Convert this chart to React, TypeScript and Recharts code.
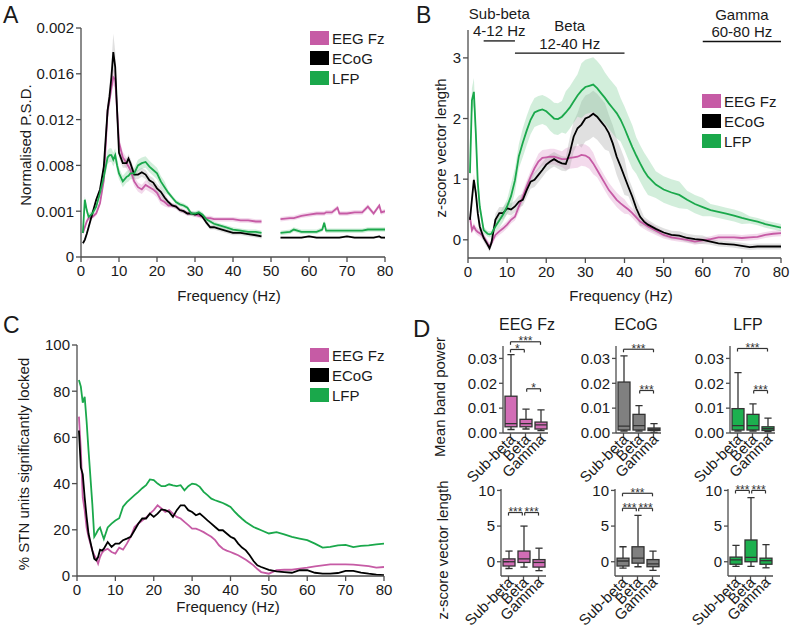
import React from 'react';
import { ComposedChart, Line, Area, Bar, XAxis, YAxis, ReferenceLine } from 'recharts';

const FONT = '"Liberation Sans", Arial, Helvetica, sans-serif';
const TEXT = '#1a1a1a';
const AXIS = '#4d4d4d';

const seriesNames = ['EEG Fz', 'ECoG', 'LFP'];
const seriesKeys = ['eeg', 'ecog', 'lfp'];
const lineColors = ['#C65BA5', '#000000', '#1AA84B'];
const bandColors = ['#D98CC3', '#9E9E9E', '#72C98F'];
const boxColors = ['#D26DB6', '#808080', '#1DB04F'];

const freqTicks = [0, 10, 20, 30, 40, 50, 60, 70, 80];

// ---------- Panel A : normalised PSD ----------
const freqA = [0.5, 1, 1.5, 2, 3, 4, 5, 6, 7, 7.5, 8, 8.5, 9, 9.5, 10, 11, 12, 12.5, 13, 14, 15, 16, 17, 18, 19, 20, 21, 22, 23, 24, 25, 26, 27, 28, 29, 30, 31, 32, 33, 34, 35, 36, 38, 40, 42, 44, 46, 47.5, 50, 52.5, 55, 56, 58, 60, 62, 63.5, 64, 64.5, 66, 67.5, 68, 70, 72, 74, 75.5, 77, 78.5, 79, 80];
const eegA = [0.0021, 0.0026, 0.0031, 0.0034, 0.0035, 0.0038, 0.0047, 0.0067, 0.0128, 0.0137, 0.0148, 0.0157, 0.0155, 0.0128, 0.0100, 0.0087, 0.0082, 0.0079, 0.0076, 0.0066, 0.0061, 0.0059, 0.0063, 0.0061, 0.0059, 0.0056, 0.0050, 0.0048, 0.0045, 0.0045, 0.0044, 0.0041, 0.0040, 0.0038, 0.0038, 0.0037, 0.0036, 0.0035, 0.0034, 0.0034, 0.0033, 0.0033, 0.0033, 0.0033, 0.0032, 0.0032, 0.0031, 0.0031, null, 0.0033, 0.0034, 0.0034, 0.0036, 0.0037, 0.0038, 0.0038, 0.0038, 0.0039, 0.0039, 0.0043, 0.0038, 0.0038, 0.0039, 0.0039, 0.0044, 0.0038, 0.0045, 0.0039, 0.0040];
const ecogA = [0.0012, 0.0015, 0.0020, 0.0026, 0.0038, 0.0050, 0.0059, 0.0079, 0.0128, 0.0140, 0.0157, 0.0179, 0.0166, 0.0128, 0.0091, 0.0082, 0.0082, 0.0086, 0.0082, 0.0072, 0.0072, 0.0074, 0.0072, 0.0067, 0.0065, 0.0060, 0.0057, 0.0052, 0.0048, 0.0045, 0.0044, 0.0041, 0.0040, 0.0038, 0.0038, 0.0037, 0.0038, 0.0035, 0.0030, 0.0026, 0.0026, 0.0025, 0.0023, 0.0021, 0.0021, 0.0020, 0.0019, 0.0018, null, 0.0017, 0.0017, 0.0017, 0.0017, 0.0018, 0.0017, 0.0017, 0.0017, 0.0017, 0.0017, 0.0017, 0.0017, 0.0018, 0.0017, 0.0017, 0.0017, 0.0017, 0.0018, 0.0017, 0.0017];
const lfpA = [0.0021, 0.0050, 0.0041, 0.0035, 0.0038, 0.0044, 0.0056, 0.0070, 0.0087, 0.0089, 0.0089, 0.0085, 0.0089, 0.0080, 0.0073, 0.0066, 0.0070, 0.0071, 0.0073, 0.0073, 0.0080, 0.0082, 0.0083, 0.0079, 0.0076, 0.0073, 0.0066, 0.0061, 0.0056, 0.0052, 0.0048, 0.0046, 0.0045, 0.0043, 0.0038, 0.0038, 0.0039, 0.0037, 0.0033, 0.0031, 0.0029, 0.0028, 0.0026, 0.0024, 0.0023, 0.0022, 0.0022, 0.0021, null, 0.0021, 0.0022, 0.0024, 0.0022, 0.0022, 0.0022, 0.0024, 0.0030, 0.0023, 0.0023, 0.0023, 0.0023, 0.0023, 0.0023, 0.0023, 0.0024, 0.0024, 0.0024, 0.0024, 0.0024];
const eegSemA = [0.0002, 0.0002, 0.0002, 0.0002, 0.0002, 0.0002, 0.0002, 0.0003, 0.0007, 0.0007, 0.0007, 0.0007, 0.0007, 0.0007, 0.0005, 0.0005, 0.0005, 0.0005, 0.0005, 0.0004, 0.0004, 0.0004, 0.0004, 0.0004, 0.0004, 0.0004, 0.0004, 0.0004, 0.0002, 0.0002, 0.0002, 0.0002, 0.0002, 0.0002, 0.0002, 0.0002, 0.0002, 0.0002, 0.0002, 0.0002, 0.0002, 0.0002, 0.0002, 0.0002, 0.0002, 0.0002, 0.0002, 0.0002, null, 0.0002, 0.0002, 0.0002, 0.0002, 0.0002, 0.0002, 0.0002, 0.0002, 0.0002, 0.0002, 0.0002, 0.0002, 0.0002, 0.0002, 0.0002, 0.0002, 0.0002, 0.0002, 0.0002, 0.0002];
const ecogSemA = [0.0002, 0.0002, 0.0002, 0.0002, 0.0002, 0.0002, 0.0002, 0.0004, 0.0008, 0.0010, 0.0012, 0.0016, 0.0014, 0.0010, 0.0004, 0.0004, 0.0004, 0.0004, 0.0004, 0.0004, 0.0004, 0.0004, 0.0004, 0.0004, 0.0004, 0.0004, 0.0004, 0.0004, 0.0002, 0.0002, 0.0002, 0.0002, 0.0002, 0.0002, 0.0002, 0.0002, 0.0002, 0.0002, 0.0002, 0.0002, 0.0002, 0.0002, 0.0002, 0.0002, 0.0002, 0.0002, 0.0002, 0.0002, null, 0.0001, 0.0001, 0.0001, 0.0001, 0.0001, 0.0001, 0.0001, 0.0001, 0.0001, 0.0001, 0.0001, 0.0001, 0.0001, 0.0001, 0.0001, 0.0001, 0.0001, 0.0001, 0.0001, 0.0001];
const lfpSemA = [0.0003, 0.0003, 0.0003, 0.0003, 0.0003, 0.0003, 0.0003, 0.0006, 0.0006, 0.0006, 0.0006, 0.0006, 0.0006, 0.0006, 0.0005, 0.0005, 0.0005, 0.0005, 0.0005, 0.0005, 0.0005, 0.0005, 0.0005, 0.0005, 0.0005, 0.0005, 0.0005, 0.0005, 0.0002, 0.0002, 0.0002, 0.0002, 0.0002, 0.0002, 0.0002, 0.0002, 0.0002, 0.0002, 0.0002, 0.0002, 0.0002, 0.0002, 0.0002, 0.0002, 0.0002, 0.0002, 0.0002, 0.0002, null, 0.0002, 0.0002, 0.0002, 0.0002, 0.0002, 0.0002, 0.0002, 0.0002, 0.0002, 0.0002, 0.0002, 0.0002, 0.0002, 0.0002, 0.0002, 0.0002, 0.0002, 0.0002, 0.0002, 0.0002];
const psdTicks = [0, 0.004, 0.008, 0.012, 0.016, 0.02];
const psdTickLabels = ['0', '0.001', '0.008', '0.012', '0.016', '0.002'];

// ---------- Panel B : z-score vector length ----------
const freqB = [0.5, 1, 1.5, 2, 2.5, 3, 4, 5, 5.5, 6, 7, 8, 9, 10, 11, 12, 13, 14, 15, 16, 17, 18, 19, 20, 21, 22, 23, 24, 25, 26, 27, 28, 29, 30, 31, 32, 33, 34, 35, 36, 37, 38, 39, 40, 41, 42, 43, 44, 45, 46, 48, 50, 52, 54, 56, 58, 60, 62, 64, 66, 68, 70, 72, 74, 76, 78, 80];
const eegB = [0.38, 0.16, 0.22, 0.16, 0.13, 0.11, 0.05, -0.06, -0.11, -0.05, 0.08, 0.14, 0.19, 0.25, 0.33, 0.38, 0.55, 0.71, 0.88, 1.04, 1.18, 1.29, 1.35, 1.36, 1.37, 1.37, 1.35, 1.33, 1.33, 1.35, 1.36, 1.37, 1.40, 1.39, 1.35, 1.26, 1.15, 1.04, 0.93, 0.82, 0.74, 0.66, 0.60, 0.55, 0.50, 0.44, 0.37, 0.30, 0.26, 0.22, 0.15, 0.08, 0.04, 0.02, 0.00, -0.03, -0.01, 0.01, 0.04, 0.04, 0.04, 0.03, 0.04, 0.05, 0.08, 0.10, 0.11];
const ecogB = [0.33, 0.66, 0.99, 0.77, 0.44, 0.22, 0.03, -0.08, -0.14, -0.05, 0.33, 0.44, 0.44, 0.52, 0.50, 0.55, 0.63, 0.66, 0.82, 0.96, 0.99, 1.07, 1.15, 1.24, 1.29, 1.33, 1.29, 1.26, 1.25, 1.43, 1.70, 1.84, 1.90, 2.00, 2.03, 2.08, 2.03, 1.95, 1.87, 1.76, 1.59, 1.37, 1.21, 1.04, 0.87, 0.71, 0.52, 0.38, 0.30, 0.25, 0.18, 0.12, 0.08, 0.07, 0.03, 0.01, 0.00, -0.03, -0.06, -0.07, -0.08, -0.10, -0.12, -0.11, -0.11, -0.11, -0.11];
const lfpB = [1.10, 2.30, 2.44, 1.76, 0.94, 0.55, 0.16, 0.10, 0.09, 0.10, 0.22, 0.32, 0.42, 0.55, 0.72, 0.98, 1.38, 1.60, 1.80, 1.98, 2.10, 2.13, 2.15, 2.12, 2.06, 2.00, 1.99, 2.03, 2.10, 2.18, 2.28, 2.38, 2.46, 2.52, 2.54, 2.56, 2.50, 2.42, 2.34, 2.25, 2.17, 2.09, 1.98, 1.84, 1.68, 1.53, 1.39, 1.26, 1.14, 1.04, 0.91, 0.83, 0.78, 0.74, 0.66, 0.59, 0.54, 0.49, 0.46, 0.43, 0.40, 0.36, 0.33, 0.30, 0.26, 0.23, 0.20];
const eegSemB = [0.06, 0.06, 0.06, 0.06, 0.06, 0.06, 0.06, 0.06, 0.06, 0.06, 0.06, 0.06, 0.06, 0.06, 0.06, 0.06, 0.10, 0.10, 0.10, 0.10, 0.10, 0.13, 0.13, 0.13, 0.13, 0.13, 0.13, 0.13, 0.18, 0.18, 0.18, 0.18, 0.18, 0.18, 0.18, 0.18, 0.12, 0.12, 0.12, 0.12, 0.12, 0.12, 0.12, 0.12, 0.08, 0.08, 0.08, 0.08, 0.08, 0.08, 0.07, 0.06, 0.05, 0.05, 0.05, 0.05, 0.05, 0.05, 0.05, 0.05, 0.05, 0.05, 0.05, 0.05, 0.05, 0.05, 0.05];
const ecogSemB = [0.10, 0.10, 0.10, 0.10, 0.10, 0.10, 0.06, 0.06, 0.06, 0.06, 0.10, 0.10, 0.10, 0.10, 0.10, 0.10, 0.10, 0.10, 0.12, 0.12, 0.12, 0.12, 0.12, 0.12, 0.12, 0.12, 0.12, 0.12, 0.12, 0.25, 0.25, 0.25, 0.38, 0.38, 0.38, 0.38, 0.38, 0.38, 0.38, 0.30, 0.30, 0.30, 0.30, 0.30, 0.15, 0.15, 0.15, 0.15, 0.08, 0.08, 0.07, 0.07, 0.07, 0.07, 0.07, 0.07, 0.07, 0.05, 0.05, 0.05, 0.05, 0.05, 0.05, 0.05, 0.05, 0.05, 0.05];
const lfpSemB = [0.15, 0.20, 0.23, 0.20, 0.15, 0.10, 0.05, 0.05, 0.05, 0.05, 0.08, 0.12, 0.12, 0.12, 0.20, 0.20, 0.20, 0.24, 0.24, 0.24, 0.24, 0.24, 0.24, 0.24, 0.26, 0.26, 0.26, 0.26, 0.35, 0.35, 0.35, 0.35, 0.45, 0.45, 0.45, 0.45, 0.45, 0.45, 0.42, 0.42, 0.42, 0.42, 0.36, 0.36, 0.36, 0.36, 0.30, 0.30, 0.30, 0.30, 0.22, 0.22, 0.22, 0.22, 0.15, 0.15, 0.15, 0.10, 0.10, 0.10, 0.10, 0.10, 0.06, 0.06, 0.06, 0.06, 0.06];
const zTicksB = [0, 1, 2, 3];
const bandNames = ['Sub-beta', 'Beta', 'Gamma'];
const bandRanges = ['4-12 Hz', '12-40 Hz', '60-80 Hz'];
const bandStart = [4, 12, 60];
const bandEnd = [12, 40, 80];
const bandLevel = [3.28, 3.08, 3.27];

// ---------- Panel C : % STN units locked ----------
const freqC = [0.5, 1, 1.5, 2, 2.5, 3, 4, 4.5, 5, 5.5, 6, 6.5, 7, 8, 9, 10, 11, 12, 13, 14, 15, 16, 17, 18, 19, 20, 21, 22, 23, 24, 25, 26, 27, 28, 29, 30, 31, 32, 33, 34, 35, 36, 37, 38, 39, 40, 41, 42, 43, 44, 45, 46, 47, 48, 50, 52, 54, 56, 58, 60, 62, 64, 66, 68, 70, 72, 74, 76, 78, 80];
const eegC = [69, 54.5, 34, 28.5, 21, 17, 11, 9, 7.5, 5.3, 8.2, 10, 11, 11.8, 10.4, 9.7, 12.3, 11.4, 14, 17, 21.2, 22.7, 24, 25.3, 27, 28.5, 30.6, 29.2, 27.7, 28.5, 27, 25.6, 24.9, 23.4, 22, 20.5, 20.5, 19.8, 19, 18, 17, 15.5, 13.3, 11.8, 11, 10.4, 9.7, 9, 8, 7, 5.8, 4.6, 3, 1.7, 1, 2.5, 2.7, 2.7, 3.2, 3.6, 4.2, 4.6, 5, 5, 5, 4.9, 4.6, 4.3, 3.6, 3.9];
const ecogC = [63, 47, 44, 34, 25.6, 18.4, 11, 7.5, 6.8, 8.2, 11.4, 11, 11.8, 14.7, 12.6, 14, 14, 15.5, 16.2, 17, 19.8, 22.7, 24.9, 24.9, 27, 25.6, 27, 28.8, 28.5, 27.7, 25.6, 28.5, 30.6, 30.6, 28.5, 27.7, 26.3, 27, 25.6, 24.1, 22.7, 21.2, 19.8, 19.8, 18.4, 17, 16.2, 14, 12.3, 11.1, 9, 6.5, 4.6, 3.9, 2.7, 2, 1.7, 1.4, 2.5, 2.5, 1.4, 1, 1, 1.3, 2.2, 2.2, 1.5, 1, 0.6, 0.4];
const lfpC = [84.8, 82, 75, 77.6, 67, 54.5, 31, 17, 18.4, 20, 21, 18.4, 16, 21, 22.7, 24, 25, 30, 32, 33.5, 35, 36.4, 38, 39.3, 41.8, 41.5, 40, 38.9, 38.9, 39.7, 39.2, 38.9, 39.3, 37.1, 38.9, 40, 39.7, 38.6, 36.4, 35, 33.5, 32.8, 32.2, 31.6, 30.8, 29.9, 28, 26.3, 24.8, 23.4, 22.3, 21.2, 20.5, 19.8, 18.4, 19, 18, 16.9, 16.2, 15.5, 14, 12.3, 12.6, 13.3, 13.5, 12.5, 13, 13.3, 13.7, 14];
const pctTicks = [0, 20, 40, 60, 80, 100];

// ---------- Panel D : box plots [low whisker, Q1, median, Q3, high whisker] ----------
const eegPower = [[0.0014, 0.0025, 0.0038, 0.0148, 0.0315], [0.0016, 0.0025, 0.0038, 0.0055, 0.0096], [0.0010, 0.0016, 0.0033, 0.0044, 0.0093]];
const ecogPower = [[0.0008, 0.0012, 0.0028, 0.0205, 0.0310], [0.0008, 0.0012, 0.0030, 0.0075, 0.0110], [0.0002, 0.0010, 0.0015, 0.0020, 0.0038]];
const lfpPower = [[0.0008, 0.0012, 0.0030, 0.0098, 0.0243], [0.0008, 0.0012, 0.0030, 0.0075, 0.0117], [0.0006, 0.0010, 0.0017, 0.0025, 0.0060]];
const eegZ = [[-0.95, -0.6, 0, 0.4, 1.5], [-0.75, -0.1, 0.4, 1.5, 5.0], [-1.25, -0.75, -0.1, 0.3, 1.9]];
const ecogZ = [[-0.9, -0.6, 0.1, 0.5, 2.1], [-0.7, -0.2, 0.5, 2.1, 6.5], [-1.2, -0.7, -0.3, 0.3, 1.5]];
const lfpZ = [[-0.65, -0.35, 0.25, 0.65, 2.3], [-0.65, 0, 0.6, 3.05, 9.0], [-0.85, -0.35, 0.15, 0.5, 2.4]];
const eegPowerSig = [{ a: 0, b: 2, y: 0.0367, t: '***' }, { a: 0, b: 1, y: 0.0336, t: '*' }, { a: 1, b: 2, y: 0.0178, t: '*' }];
const ecogPowerSig = [{ a: 0, b: 2, y: 0.0337, t: '***' }, { a: 1, b: 2, y: 0.0171, t: '***' }];
const lfpPowerSig = [{ a: 0, b: 2, y: 0.034, t: '***' }, { a: 1, b: 2, y: 0.0171, t: '***' }];
const eegZSig = [{ a: 0, b: 1, y: 6.9, t: '***' }, { a: 1, b: 2, y: 6.9, t: '***' }];
const ecogZSig = [{ a: 0, b: 2, y: 9.6, t: '***' }, { a: 0, b: 1, y: 7.5, t: '***' }, { a: 1, b: 2, y: 7.5, t: '***' }];
const lfpZSig = [{ a: 0, b: 1, y: 10, t: '***' }, { a: 1, b: 2, y: 10, t: '***' }];
const powerTicks = [0, 0.01, 0.02, 0.03];
const zTicksD = [0, 5, 10];

// ---------- helpers ----------
function buildRows(freq: number[], values: (number | null)[][], sems: (number | null)[][] | null) {
  return freq.map((f, i) => {
    const row: any = { f };
    seriesKeys.forEach((k, j) => {
      const v = values[j][i];
      const s = sems ? sems[j][i] : null;
      row[k] = v;
      row[k + 'Band'] = v == null || s == null ? null : [v - s, v + s];
    });
    return row;
  });
}

const dataA = buildRows(freqA, [eegA, ecogA, lfpA], [eegSemA, ecogSemA, lfpSemA]);
const dataB = buildRows(freqB, [eegB, ecogB, lfpB], [eegSemB, ecogSemB, lfpSemB]);
const dataC = buildRows(freqC, [eegC, ecogC, lfpC], null);

const tickStyle = { fontSize: 15, fill: TEXT, fontFamily: FONT };

function SpectrumPanel(props: any) {
  const { left, top, width, height, margin, yWidth, xHeight, data, yDomain, yTicks, yFmt, showBands, children } = props;
  return (
    <div style={{ position: 'absolute', left, top }}>
      <ComposedChart width={width} height={height} data={data} margin={margin}>
        <XAxis dataKey="f" type="number" domain={[0, 80]} ticks={freqTicks} interval={0} height={xHeight}
          stroke={AXIS} strokeWidth={1.3} tickSize={5} tickMargin={3} tick={tickStyle} allowDataOverflow />
        <YAxis type="number" domain={yDomain} ticks={yTicks} interval={0} tickFormatter={yFmt} width={yWidth}
          stroke={AXIS} strokeWidth={1.3} tickSize={5} tickMargin={2} tick={tickStyle} allowDataOverflow />
        {showBands && seriesKeys.map((k, j) => (
          <Area key={k + 'Band'} dataKey={k + 'Band'} stroke="none" fill={bandColors[j]} fillOpacity={0.32}
            isAnimationActive={false} dot={false} activeDot={false} legendType="none" />
        ))}
        {seriesKeys.map((k, j) => (
          <Line key={k} dataKey={k} stroke={lineColors[j]} strokeWidth={1.8} dot={false} activeDot={false}
            isAnimationActive={false} type="linear" />
        ))}
        {children}
      </ComposedChart>
    </div>
  );
}

function SeriesLegend({ left, top }: any) {
  return (
    <div style={{ position: 'absolute', left, top, fontFamily: FONT, fontSize: 15, color: TEXT }}>
      {seriesNames.map((n, j) => (
        <div key={n} style={{ display: 'flex', alignItems: 'center', height: 20 }}>
          <div style={{ width: 19, height: 14, background: lineColors[j], marginRight: 3 }} />
          <span>{n}</span>
        </div>
      ))}
    </div>
  );
}

function BandLabel({ viewBox, title, range }: any) {
  if (!viewBox) return null;
  const cx = viewBox.x + viewBox.width / 2;
  const y = viewBox.y;
  return (
    <text textAnchor="middle" fontSize={15} fill={TEXT} fontFamily={FONT}>
      <tspan x={cx} y={y - 22}>{title}</tspan>
      <tspan x={cx} y={y - 4.5}>{range}</tspan>
    </text>
  );
}

function StarLabel({ viewBox, text }: any) {
  if (!viewBox) return null;
  return (
    <text x={viewBox.x + viewBox.width / 2} y={viewBox.y + 3.5} textAnchor="middle" fontSize={12}
      fill="#333" fontFamily={FONT}>{text}</text>
  );
}

function makeBoxShape(fill: string) {
  return (props: any) => {
    const { x, y, width, height } = props;
    const d = props.payload ?? props;
    const { low, q1, med, q3, high } = d;
    const yTop = Math.min(y, y + height);
    const yBot = Math.max(y, y + height);
    const k = (yBot - yTop) / (high - low);
    const py = (v: number) => yBot - (v - low) * k;
    const cx = x + width / 2;
    const capW = width * 0.6;
    return (
      <g stroke="#333" strokeWidth={1.3}>
        <line x1={cx} x2={cx} y1={py(high)} y2={py(q3)} />
        <line x1={cx} x2={cx} y1={py(q1)} y2={py(low)} />
        <line x1={cx - capW / 2} x2={cx + capW / 2} y1={py(high)} y2={py(high)} />
        <line x1={cx - capW / 2} x2={cx + capW / 2} y1={py(low)} y2={py(low)} />
        <rect x={x} y={py(q3)} width={width} height={Math.max(0.5, py(q1) - py(q3))} fill={fill} />
        <line x1={x} x2={x + width} y1={py(med)} y2={py(med)} />
      </g>
    );
  };
}

const RotTick = (props: any) => {
  const { x, y, payload } = props;
  return (
    <text x={x} y={y} dx={3} dy={5} textAnchor="end" transform={`rotate(-45, ${x}, ${y})`}
      fontSize={15} fill={TEXT} fontFamily={FONT}>{bandNames[payload.value]}</text>
  );
};

function BoxPanel(props: any) {
  const { x0, y0, boxes, color, sig, domain, ticks, fmt } = props;
  const yW = 45, mTop = 22, mRight = 8, xH = 58, plotW = 45, plotH = 87;
  const data = bandNames.map((n, i) => ({
    idx: i, name: n, low: boxes[i][0], q1: boxes[i][1], med: boxes[i][2], q3: boxes[i][3], high: boxes[i][4],
  }));
  const tickLen = (domain[1] - domain[0]) * 0.035;
  const shape = makeBoxShape(color);
  return (
    <div style={{ position: 'absolute', left: x0 - yW, top: y0 - mTop }}>
      <ComposedChart width={yW + plotW + mRight} height={mTop + plotH + xH} data={data}
        margin={{ top: mTop, right: mRight, bottom: 0, left: 0 }}>
        <XAxis dataKey="idx" type="number" domain={[-0.5, 2.5]} ticks={[0, 1, 2]} interval={0} height={xH}
          stroke={AXIS} strokeWidth={1.3} tickSize={4} tickMargin={2} tick={<RotTick />} />
        <YAxis type="number" domain={domain} ticks={ticks} interval={0} tickFormatter={fmt} width={yW}
          stroke={AXIS} strokeWidth={1.3} tickSize={4} tickMargin={2} tick={tickStyle} allowDataOverflow />
        <Bar dataKey={(d: any) => [d.low, d.high]} barSize={12} shape={shape} isAnimationActive={false} />
        {sig.flatMap((s: any, i: number) => {
          const xa = s.a === 1 ? s.a + 0.08 : s.a;
          const xb = s.b === 1 ? s.b - 0.08 : s.b;
          return [
            <ReferenceLine key={'h' + i} segment={[{ x: xa, y: s.y }, { x: xb, y: s.y }]} stroke="#333" strokeWidth={1.2}
              ifOverflow="visible" label={{ content: (p: any) => <StarLabel viewBox={p.viewBox} text={s.t} /> }} />,
            <ReferenceLine key={'l' + i} segment={[{ x: xa, y: s.y }, { x: xa, y: s.y - tickLen }]} stroke="#333"
              strokeWidth={1.2} ifOverflow="visible" />,
            <ReferenceLine key={'r' + i} segment={[{ x: xb, y: s.y }, { x: xb, y: s.y - tickLen }]} stroke="#333"
              strokeWidth={1.2} ifOverflow="visible" />,
          ];
        })}
      </ComposedChart>
    </div>
  );
}

const fmtPower = (v: number) => v.toFixed(2);
const fmtZ = (v: number) => String(v);

export default function App() {
  return (
    <div style={{ position: 'absolute', left: 0, top: 0, width: 793, height: 635, background: '#fff', fontFamily: FONT, overflow: 'hidden' }}>
      {/* A */}
      <SpectrumPanel left={0} top={0} width={400} height={300} margin={{ top: 28, right: 15, bottom: 0, left: 0 }}
        yWidth={81} xHeight={43} data={dataA} yDomain={[0, 0.02]} yTicks={psdTicks}
        yFmt={(v: number) => psdTickLabels[psdTicks.indexOf(v)]} showBands />
      <SeriesLegend left={310} top={28} />

      {/* B */}
      <SpectrumPanel left={400} top={0} width={393} height={300} margin={{ top: 30, right: 12, bottom: 0, left: 0 }}
        yWidth={68} xHeight={42} data={dataB} yDomain={[-0.3, 3.46]} yTicks={zTicksB}
        yFmt={(v: number) => String(v)} showBands>
        {bandNames.map((n, i) => (
          <ReferenceLine key={n} segment={[{ x: bandStart[i], y: bandLevel[i] }, { x: bandEnd[i], y: bandLevel[i] }]}
            stroke="#111" strokeWidth={1.3} ifOverflow="visible"
            label={{ content: (p: any) => <BandLabel viewBox={p.viewBox} title={n} range={bandRanges[i]} /> }} />
        ))}
      </SpectrumPanel>
      <SeriesLegend left={702} top={91} />

      {/* C */}
      <SpectrumPanel left={0} top={310} width={400} height={300} margin={{ top: 35, right: 16, bottom: 0, left: 0 }}
        yWidth={77} xHeight={34} data={dataC} yDomain={[0, 100]} yTicks={pctTicks}
        yFmt={(v: number) => String(v)} showBands={false} />
      <SeriesLegend left={310} top={345} />

      {/* D */}
      <BoxPanel x0={503} y0={346} boxes={eegPower} color={boxColors[0]} sig={eegPowerSig} domain={[0, 0.035]} ticks={powerTicks} fmt={fmtPower} />
      <BoxPanel x0={616} y0={346} boxes={ecogPower} color={boxColors[1]} sig={ecogPowerSig} domain={[0, 0.035]} ticks={powerTicks} fmt={fmtPower} />
      <BoxPanel x0={730} y0={346} boxes={lfpPower} color={boxColors[2]} sig={lfpPowerSig} domain={[0, 0.035]} ticks={powerTicks} fmt={fmtPower} />
      <BoxPanel x0={501} y0={489} boxes={eegZ} color={boxColors[0]} sig={eegZSig} domain={[-2, 10.2]} ticks={zTicksD} fmt={fmtZ} />
      <BoxPanel x0={615} y0={489} boxes={ecogZ} color={boxColors[1]} sig={ecogZSig} domain={[-2, 10.2]} ticks={zTicksD} fmt={fmtZ} />
      <BoxPanel x0={728} y0={489} boxes={lfpZ} color={boxColors[2]} sig={lfpZSig} domain={[-2, 10.2]} ticks={zTicksD} fmt={fmtZ} />

      {/* titles and panel letters */}
      <svg width={793} height={635} style={{ position: 'absolute', left: 0, top: 0, pointerEvents: 'none' }}
        fontFamily={FONT} fill={TEXT}>
        <text x={3} y={23} fontSize={23}>A</text>
        <text x={416} y={23} fontSize={23}>B</text>
        <text x={3} y={333} fontSize={23}>C</text>
        <text x={413} y={337} fontSize={24}>D</text>
        <text x={0} y={0} fontSize={15} textAnchor="middle" dy="0.35em" transform="translate(26,145) rotate(-90)">Normalised P.S.D.</text>
        <text x={229} y={301} fontSize={15} textAnchor="middle">Frequency (Hz)</text>
        <text x={0} y={0} fontSize={15} textAnchor="middle" dy="0.35em" transform="translate(441,148) rotate(-90)">z-score vector length</text>
        <text x={621} y={301} fontSize={15} textAnchor="middle">Frequency (Hz)</text>
        <text x={0} y={0} fontSize={15} textAnchor="middle" dy="0.35em" transform="translate(24,464) rotate(-90)">% STN units significantly locked</text>
        <text x={228} y={612} fontSize={15} textAnchor="middle">Frequency (Hz)</text>
        <text x={527} y={330} fontSize={16} textAnchor="middle">EEG Fz</text>
        <text x={636} y={330} fontSize={16} textAnchor="middle">ECoG</text>
        <text x={748} y={330} fontSize={16} textAnchor="middle">LFP</text>
        <text x={0} y={0} fontSize={15} textAnchor="middle" dy="0.35em" transform="translate(440,397) rotate(-90)">Mean band power</text>
        <text x={0} y={0} fontSize={15} textAnchor="middle" dy="0.35em" transform="translate(443,550) rotate(-90)">z-score vector length</text>
      </svg>
    </div>
  );
}
